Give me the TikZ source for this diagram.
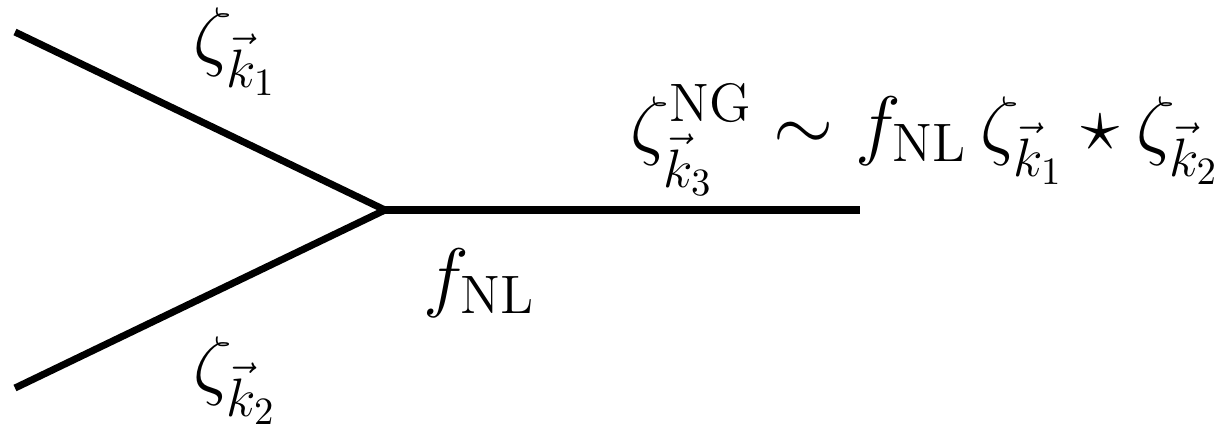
\RequirePackage{fix-cm}
\documentclass[tikz,border=0pt]{standalone}
\usepackage{amsmath,amssymb}
\usetikzlibrary{positioning}
\tikzset{
  every picture/.style={line width=2pt},
  leg/.style={draw=black, line width=2pt, line cap=butt},
  lbl/.style={inner sep=0pt, anchor=base west, font=\fontsize{22}{26}\selectfont},
}

\begin{document}
\begin{tikzpicture}
  \useasboundingbox (0,0) rectangle (12.32,4.23);
  % vertex and the free ends of the legs
  \coordinate (v) at (3.85,2.13);
  \coordinate (in1) at (0.15,3.91);
  \coordinate (in2) at (0.15,0.35);
  \coordinate (out) at (8.60,2.13);
  \draw[leg] (in1) -- (v);
  \draw[leg] (in2) -- (v);
  \draw[leg] (v) -- (out);
  % labels
  \node[lbl] (z1) at (1.90,3.62) {$\zeta_{\vec{k}_1}$};
  \node[lbl] (z2) at (1.90,0.33) {$\zeta_{\vec{k}_2}$};
  \node[lbl] (fnl) at (4.20,1.21) {$f_{\rm NL}$};
  \node[lbl] (z3) at (6.27,2.73) {$\zeta^{\rm NG}_{\vec{k}_3}\sim f_{\rm NL}\,\zeta_{\vec{k}_1}\star\zeta_{\vec{k}_2}$};
\end{tikzpicture}
\end{document}
